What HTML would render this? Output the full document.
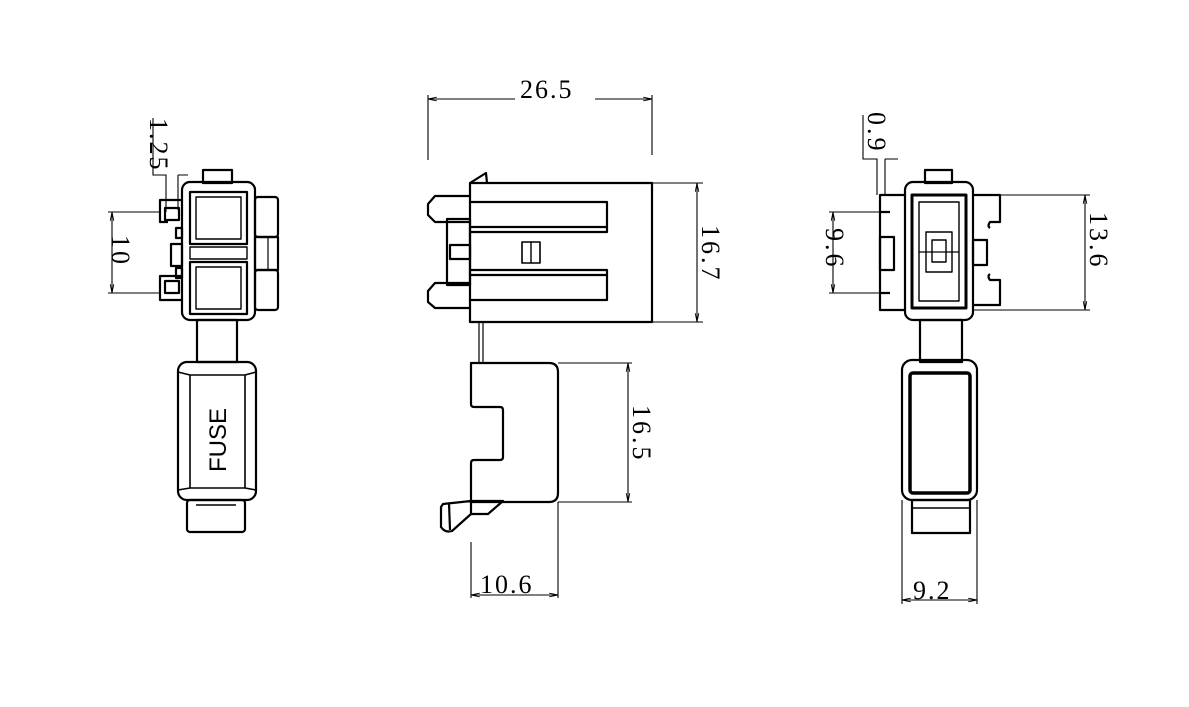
<!DOCTYPE html>
<html><head><style>
html,body{margin:0;padding:0;background:#fff;}
svg{display:block;}
text{font-family:"Liberation Serif",serif;fill:#000;}
</style></head><body>
<svg width="1189" height="707" viewBox="0 0 1189 707" xmlns="http://www.w3.org/2000/svg">
<defs>
<marker id="a" viewBox="0 0 10 10" refX="10" refY="5" markerWidth="8" markerHeight="8" orient="auto-start-reverse"><path d="M0,3 L10,5 L0,7" fill="none" stroke="#000" stroke-width="1"/></marker>
</defs>
<g fill="none" stroke="#000" stroke-width="2.2" stroke-linejoin="round">
<!-- LEFT VIEW -->
<rect x="203" y="170" width="29" height="13"/>
<rect x="182" y="182" width="73" height="138" rx="8"/>
<rect x="255" y="197" width="23" height="40" rx="3"/>
<rect x="255" y="270" width="23" height="40" rx="3"/>
<rect x="255" y="237" width="23" height="33"/>
<line x1="268" y1="237" x2="268" y2="270" stroke-width="1.2"/>
<path d="M182,200 H160 V222 H168 M182,276 H160 V300 H182"/>
<rect x="165" y="208" width="14" height="12"/>
<rect x="165" y="281" width="14" height="12"/>
<rect x="176" y="228" width="6" height="10"/><rect x="176" y="268" width="6" height="10"/>
<rect x="171" y="244" width="11" height="22"/>
<rect x="190" y="192" width="57" height="52"/>
<rect x="196" y="197" width="45" height="42" stroke-width="1.4"/>
<rect x="190" y="262" width="57" height="52"/>
<rect x="196" y="267" width="45" height="42" stroke-width="1.4"/>
<rect x="190" y="247" width="57" height="12" stroke-width="1.4"/>
<rect x="197" y="320" width="40" height="42"/>
<rect x="178" y="362" width="78" height="138" rx="9"/>
<path d="M190,375 H245 V488 H190 Z M178,372 L190,375 M256,372 L245,375 M178,490 L190,488 M256,490 L245,488" stroke-width="1.6"/>
<rect x="187" y="500" width="58" height="32" rx="3"/>
<line x1="196" y1="505" x2="236" y2="505" stroke-width="1.4"/>
<!-- MIDDLE VIEW -->
<rect x="470" y="183" width="182" height="139"/>
<path d="M470,183 L486,173 L487,183"/>
<path d="M470,196 H435 L428,204 V215 L435,222 H470"/>
<path d="M470,283 H435 L428,291 V302 L435,308 H470"/>
<rect x="447" y="219" width="23" height="66"/>
<rect x="450" y="245" width="20" height="14"/>
<path d="M470,202 H607 V232 H470 M470,227 H607"/>
<path d="M470,270 H607 V300 H470 M470,275 H607"/>
<rect x="522" y="242" width="18" height="21" stroke-width="1.6"/>
<line x1="531" y1="242" x2="531" y2="263" stroke-width="1.4"/>
<line x1="479" y1="322" x2="479" y2="363" stroke-width="1.2"/><line x1="483" y1="322" x2="483" y2="363" stroke-width="1.2"/>
<path d="M471,363 H549 Q558,363 558,372 V493 Q558,502 549,502 H471 V463 Q471,460 474,460 H500 Q503,460 503,457 V410 Q503,407 500,407 H474 Q471,407 471,404 Z"/>
<path d="M443,504 L471,501 L503,501 L488,514 L471,514 L452,531 Q445,533 441,527 L441,507 Z M449,503 L450,530 M471,501 V514"/>
<!-- RIGHT VIEW -->
<rect x="925" y="170" width="27" height="13"/>
<rect x="905" y="182" width="68" height="138" rx="8"/>
<path d="M905,195 H880 V310 H905 M880,212 H890 M880,293 H890"/>
<rect x="880" y="237" width="14" height="33"/>
<path d="M973,195 H1000 V222 H990 Q987,226 990,228 M973,305 H1000 V280 H990 Q987,276 990,274"/>
<rect x="973" y="240" width="14" height="25"/>
<rect x="912" y="195" width="54" height="113" stroke-width="3"/>
<rect x="919" y="202" width="40" height="99" stroke-width="1.4"/>
<rect x="926" y="232" width="26" height="40" stroke-width="1.4"/>
<rect x="932" y="240" width="14" height="22" stroke-width="1.4"/>
<line x1="919" y1="252" x2="959" y2="252" stroke-width="1.2"/>
<rect x="920" y="320" width="42" height="42"/>
<rect x="902" y="360" width="75" height="140" rx="10"/>
<rect x="910" y="373" width="60" height="120" rx="3" stroke-width="3.5"/>
<rect x="912" y="500" width="58" height="33"/>
<line x1="912" y1="508" x2="970" y2="508" stroke-width="1.4"/>
</g>
<!-- DIMENSIONS -->
<g fill="none" stroke="#000" stroke-width="1.1">
<!-- left -->
<path d="M160,212 H108 M160,293 H108"/>
<line x1="112" y1="212" x2="112" y2="293" marker-start="url(#a)" marker-end="url(#a)"/>
<path d="M153,118 V175 H166 V212 M178,175 H188 M178,175 V210"/>
<!-- middle -->
<path d="M428,160 V95 M652,155 V95"/>
<line x1="428" y1="99" x2="515" y2="99" marker-start="url(#a)"/>
<line x1="595" y1="99" x2="652" y2="99" marker-end="url(#a)"/>
<path d="M652,183 H703 M652,322 H703"/>
<line x1="697" y1="183" x2="697" y2="322" marker-start="url(#a)" marker-end="url(#a)"/>
<path d="M558,363 H632 M558,502 H632"/>
<line x1="628" y1="363" x2="628" y2="502" marker-start="url(#a)" marker-end="url(#a)"/>
<path d="M471,542 V598 M558,502 V598"/>
<line x1="471" y1="595" x2="558" y2="595" marker-start="url(#a)" marker-end="url(#a)"/>
<!-- right -->
<path d="M973,195 H1090 M973,310 H1090"/>
<line x1="1085" y1="195" x2="1085" y2="310" marker-start="url(#a)" marker-end="url(#a)"/>
<path d="M880,212 H829 M880,293 H829"/>
<line x1="833" y1="212" x2="833" y2="293" marker-start="url(#a)" marker-end="url(#a)"/>
<path d="M863,115 V159 H877 V195 M885,159 H898 M885,159 V195"/>
<path d="M902,500 V604 M977,500 V604"/>
<line x1="902" y1="600" x2="977" y2="600" marker-start="url(#a)" marker-end="url(#a)"/>
</g>
<g font-size="26">
<text x="520" y="98" letter-spacing="2">26.5</text>
<text x="480" y="593" letter-spacing="2">10.6</text>
<text x="913" y="599" letter-spacing="2">9.2</text>
<text transform="translate(702,225) rotate(90)" letter-spacing="3">16.7</text>
<text transform="translate(633,405) rotate(90)" letter-spacing="3">16.5</text>
<text transform="translate(1090,212) rotate(90)" letter-spacing="3">13.6</text>
<text transform="translate(826,228) rotate(90)" letter-spacing="3">9.6</text>
<text transform="translate(112,235) rotate(90)" letter-spacing="3">10</text>
<text transform="translate(150,118) rotate(90)" letter-spacing="2">1.25</text>
<text transform="translate(868,112) rotate(90)" letter-spacing="3">0.9</text>
</g>
<text transform="translate(226,472) rotate(-90)" font-size="24" style="font-family:'Liberation Sans',sans-serif">FUSE</text>
</svg>
</body></html>
